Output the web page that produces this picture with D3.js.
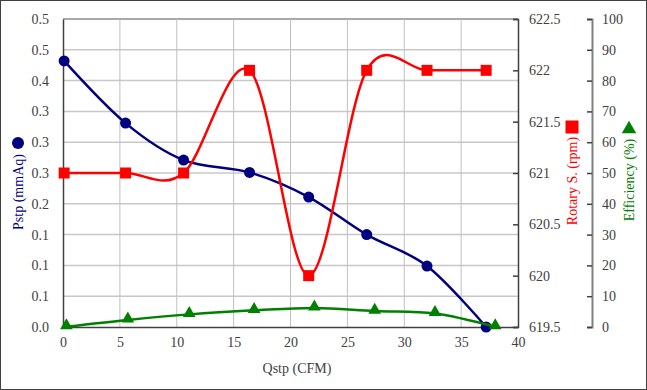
<!DOCTYPE html>
<html><head><meta charset="utf-8">
<script src="https://cdn.jsdelivr.net/npm/d3@7"></script>
<style>
html,body{margin:0;padding:0;background:#fff;}
svg{display:block;}
svg text{font-family:"Liberation Serif","Times New Roman",serif !important;}
</style></head>
<body>
<svg id="chart" width="647" height="390"></svg>
<script>
// Data
const qstp = [0.1, 5.5, 10.6, 16.4, 21.6, 26.7, 32.0, 37.2];
const pstp = [0.432, 0.331, 0.271, 0.251, 0.211, 0.150, 0.099, 0.0];
const rotary = [621, 621, 621, 622, 620, 622, 622, 622];
const qstpEff = [0.3, 5.7, 11.1, 16.8, 22.1, 27.4, 32.7, 38.0];
const efficiency = [0.1, 2.3, 4.1, 5.4, 6.2, 5.2, 4.4, 0.1];
const xTicks = [0, 5, 10, 15, 20, 25, 30, 35, 40];
const pTicks = [0, 0.05, 0.1, 0.15, 0.2, 0.25, 0.3, 0.35, 0.4, 0.45, 0.5];
const rTicks = [619.5, 620, 620.5, 621, 621.5, 622, 622.5];
const eTicks = [0, 10, 20, 30, 40, 50, 60, 70, 80, 90, 100];

const svg = d3.select("#chart");
const W = 647, H = 390;
const L = 63, R = 518, T = 19, B = 327;
const navy = "#000080", red = "#ff0000", green = "#008000";

svg.append("rect").attr("x",0.5).attr("y",0.5).attr("width",W-1).attr("height",H-1)
  .attr("fill","#fff").attr("stroke","#404040").attr("stroke-width",1);

const x = d3.scaleLinear().domain([0,40]).range([L,R]);
const yP = d3.scaleLinear().domain([0,0.5]).range([B,T]);
const yR = d3.scaleLinear().domain([619.5,622.5]).range([B,T]);
const yE = d3.scaleLinear().domain([0,100]).range([B,T]);

// gridlines
const g = svg.append("g");
g.selectAll("line.hg").data(pTicks.slice(1)).join("line")
  .attr("x1",L).attr("x2",R).attr("y1",d=>yP(d)).attr("y2",d=>yP(d))
  .attr("stroke", (d,i)=> i===pTicks.length-2 ? "#8c8c8c" : "#c8c8c8").attr("stroke-width",1.5);
g.selectAll("line.vg").data(xTicks.slice(1,-1)).join("line")
  .attr("x1",d=>x(d)).attr("x2",d=>x(d)).attr("y1",T).attr("y2",B)
  .attr("stroke","#c0c0c0").attr("stroke-width",1);

// axes
const fs = "14px";
const axL = svg.append("g").attr("transform",`translate(${L},0)`)
  .call(d3.axisLeft(yP).tickValues(pTicks).tickSize(0).tickPadding(14).tickFormat(d3.format(".1f")));
const axB = svg.append("g").attr("transform",`translate(0,${B})`)
  .call(d3.axisBottom(x).tickValues(xTicks).tickSize(0).tickPadding(10).tickFormat(d3.format("d")));
const axR = svg.append("g").attr("transform",`translate(${R},0)`)
  .call(d3.axisRight(yR).tickValues(rTicks).tickSize(-5).tickPadding(14).tickFormat(d=>String(d)));
const axE = svg.append("g").attr("transform",`translate(${592},0)`)
  .call(d3.axisRight(yE).tickValues(eTicks).tickSize(-5).tickPadding(12).tickFormat(d3.format("d")));
[axL,axB,axR,axE].forEach(a=>{
  a.attr("font-family",null);
  a.selectAll("text").attr("font-size",fs).attr("fill","#404040");
  a.select(".domain").attr("stroke","#404040").attr("stroke-width",1.5);
  a.selectAll(".tick line").attr("stroke","#404040").attr("stroke-width",1.5);
});
axR.selectAll(".tick text").attr("x",11);
axE.select(".domain").attr("stroke","#808080").attr("stroke-width",2);
axE.selectAll(".tick line").attr("stroke","#404040");
axE.selectAll(".tick text").attr("x",10);
axB.selectAll(".tick text").attr("x", 0);

const curve = d3.curveCatmullRom.alpha(0);
// Pstp line
const lineP = d3.line().x((d,i)=>x(qstp[i])).y(d=>yP(d)).curve(curve);
svg.append("path").datum(pstp).attr("d",lineP).attr("fill","none").attr("stroke",navy).attr("stroke-width",2.5);
svg.selectAll("circle.p").data(pstp).join("circle")
  .attr("cx",(d,i)=>x(qstp[i])).attr("cy",d=>yP(d)).attr("r",5.5).attr("fill",navy);

// Rotary line
const lineR = d3.line().x((d,i)=>x(qstp[i])).y(d=>yR(d)).curve(curve);
svg.append("path").datum(rotary).attr("d",lineR).attr("fill","none").attr("stroke",red).attr("stroke-width",2.5);
svg.selectAll("rect.r").data(rotary).join("rect")
  .attr("x",(d,i)=>x(qstp[i])-5.5).attr("y",d=>yR(d)-5.5).attr("width",11).attr("height",11).attr("fill",red);

// Efficiency line
const lineE = d3.line().x((d,i)=>x(qstpEff[i])).y(d=>yE(d)).curve(curve);
svg.append("path").datum(efficiency).attr("d",lineE).attr("fill","none").attr("stroke",green).attr("stroke-width",2.5);
const tri = d3.symbol().type(d3.symbolTriangle).size(70);
svg.selectAll("path.e").data(efficiency).join("path")
  .attr("d",tri).attr("transform",(d,i)=>`translate(${x(qstpEff[i])},${yE(d)-1})`).attr("fill",green);

// titles
svg.append("text").attr("x",297).attr("y",373).attr("text-anchor","middle")
  .attr("font-size",fs).attr("fill","#404040").text("Qstp (CFM)");

svg.append("circle").attr("cx",18).attr("cy",143).attr("r",6).attr("fill",navy);
svg.append("text").attr("transform","translate(23,192) rotate(-90)").attr("text-anchor","middle")
  .attr("font-size",fs).attr("fill",navy).text("Pstp (mmAq)");

svg.append("rect").attr("x",565.5).attr("y",120.5).attr("width",13).attr("height",13).attr("fill",red);
svg.append("text").attr("transform","translate(577,181) rotate(-90)").attr("text-anchor","middle")
  .attr("font-size",fs).attr("fill",red).text("Rotary S. (rpm)");

svg.append("path").attr("d",d3.symbol().type(d3.symbolTriangle).size(90))
  .attr("transform","translate(629,129)").attr("fill",green);
svg.append("text").attr("transform","translate(634,180) rotate(-90)").attr("text-anchor","middle")
  .attr("font-size",fs).attr("fill",green).text("Efficiency (%)");
</script>
</body></html>
